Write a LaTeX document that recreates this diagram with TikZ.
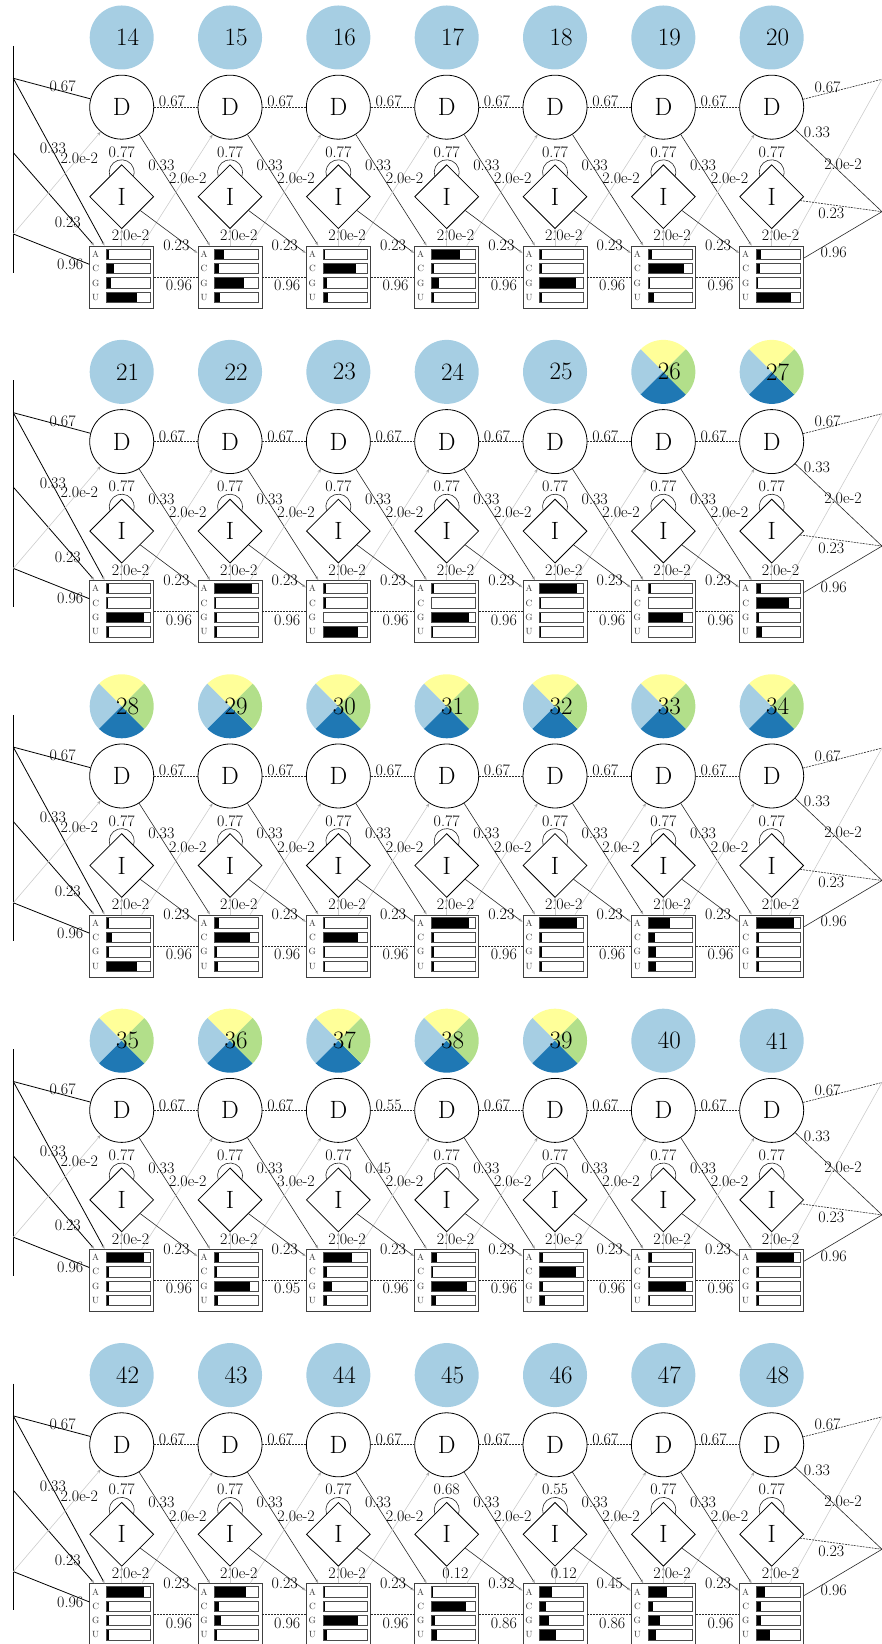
\documentclass[tikz,border=0pt]{standalone}
\usepackage{fontspec}
\usetikzlibrary{positioning,arrows.meta,shapes.geometric}
\definecolor{paleblue}{HTML}{A6CEE3}
\definecolor{deepblue}{HTML}{1F78B4}
\definecolor{palegreen}{HTML}{B2DF8A}
\definecolor{paleyellow}{HTML}{FFFF99}
\definecolor{edgegray}{gray}{0.8}

\tikzset{
  posball/.style={circle,minimum size=64pt,inner sep=0pt,font=\fontsize{25}{30}\selectfont},
  delnode/.style={circle,draw,line width=0.8pt,fill=white,minimum size=64pt,inner sep=0pt,
                  font=\fontsize{25}{30}\selectfont},
  insnode/.style={diamond,draw,line width=0.8pt,fill=white,minimum width=64pt,minimum height=64pt,
                  inner sep=0pt,font=\fontsize{25}{30}\selectfont},
  matnode/.style={rectangle,draw=black!75,line width=0.9pt,fill=white,minimum width=64pt,
                  minimum height=62pt,inner sep=0pt},
  barframe/.style={draw=black!70,line width=0.7pt},
  prob/.style={font=\fontsize{16}{19}\selectfont,inner sep=0pt,text=black},
  nuc/.style={font=\fontsize{9}{10}\selectfont,inner sep=0pt,text=black!80},
  trans/.style={line width=0.6pt,black!85},
  entry/.style={line width=0.8pt,black},
  faint/.style={line width=0.6pt,edgegray},
  flat/.style={dash pattern=on 2pt off 1pt},
  headed/.style={-{Stealth[length=4pt,width=3pt,color=black!35]}}
}

% column / pie / A C G U / loop / M->I / I->M / M->M / D->D / D->M / M->D
\newcommand\hmmdata{%
14/0/.07/.17/.10/.70/0.77/2.0e-2/0.23/0.96/0.67/0.33/2.0e-2,
15/0/.20/.10/.66/.11/0.77/2.0e-2/0.23/0.96/0.67/0.33/2.0e-2,
16/0/.05/.75/.08/.12/0.77/2.0e-2/0.23/0.96/0.67/0.33/2.0e-2,
17/0/.65/.05/.18/.05/0.77/2.0e-2/0.23/0.96/0.67/0.33/2.0e-2,
18/0/.05/.05/.82/.05/0.77/2.0e-2/0.23/0.96/0.67/0.33/2.0e-2,
19/0/.08/.82/.05/.13/0.77/2.0e-2/0.23/0.96/0.67/0.33/2.0e-2,
20/0/.10/.09/.04/.79/0.77/2.0e-2/0.23/0.96/0.67/0.33/2.0e-2,
21/0/.07/.03/.85/.05/0.77/2.0e-2/0.23/0.96/0.67/0.33/2.0e-2,
22/0/.85/.04/.06/.06/0.77/2.0e-2/0.23/0.96/0.67/0.33/2.0e-2,
23/0/.07/.07/.02/.80/0.77/2.0e-2/0.23/0.96/0.67/0.33/2.0e-2,
24/0/.07/.02/.85/.03/0.77/2.0e-2/0.23/0.96/0.67/0.33/2.0e-2,
25/0/.85/.04/.04/.04/0.77/2.0e-2/0.23/0.96/0.67/0.33/2.0e-2,
26/1/.07/.03/.80/.03/0.77/2.0e-2/0.23/0.96/0.67/0.33/2.0e-2,
27/1/.10/.75/.07/.12/0.77/2.0e-2/0.23/0.96/0.67/0.33/2.0e-2,
28/1/.05/.12/.05/.70/0.77/2.0e-2/0.23/0.96/0.67/0.33/2.0e-2,
29/1/.10/.80/.05/.08/0.77/2.0e-2/0.23/0.96/0.67/0.33/2.0e-2,
30/1/.05/.80/.05/.05/0.77/2.0e-2/0.23/0.96/0.67/0.33/2.0e-2,
31/1/.85/.05/.05/.05/0.77/2.0e-2/0.23/0.96/0.67/0.33/2.0e-2,
32/1/.85/.05/.05/.05/0.77/2.0e-2/0.23/0.96/0.67/0.33/2.0e-2,
33/1/.50/.15/.18/.18/0.77/2.0e-2/0.23/0.96/0.67/0.33/2.0e-2,
34/1/.85/.05/.05/.05/0.77/2.0e-2/0.23/0.96/0.67/0.33/2.0e-2,
35/1/.85/.05/.05/.05/0.77/2.0e-2/0.23/0.96/0.67/0.33/2.0e-2,
36/1/.10/.05/.80/.07/0.77/2.0e-2/0.23/0.95/0.67/0.33/3.0e-2,
37/1/.65/.10/.20/.10/0.77/2.0e-2/0.23/0.96/0.55/0.45/2.0e-2,
38/1/.12/.04/.82/.10/0.77/2.0e-2/0.23/0.96/0.67/0.33/2.0e-2,
39/1/.08/.83/.08/.13/0.77/2.0e-2/0.23/0.96/0.67/0.33/2.0e-2,
40/0/.10/.04/.87/.05/0.77/2.0e-2/0.23/0.96/0.67/0.33/2.0e-2,
41/0/.85/.05/.05/.05/0.77/2.0e-2/0.23/0.96/0.67/0.33/2.0e-2,
42/0/.85/.05/.05/.05/0.77/2.0e-2/0.23/0.96/0.67/0.33/2.0e-2,
43/0/.70/.10/.15/.05/0.77/2.0e-2/0.23/0.96/0.67/0.33/2.0e-2,
44/0/.05/.05/.80/.10/0.77/2.0e-2/0.23/0.96/0.67/0.33/2.0e-2,
45/0/.03/.78/.08/.12/0.68/0.12/0.32/0.86/0.67/0.33/2.0e-2,
46/0/.29/.15/.20/.38/0.55/0.12/0.45/0.86/0.67/0.33/2.0e-2,
47/0/.43/.12/.27/.18/0.77/2.0e-2/0.23/0.96/0.67/0.33/2.0e-2,
48/0/.20/.10/.10/.30/0.77/2.0e-2/0.23/0.96/0.67/0.33/2.0e-2}

\begin{document}
\begin{tikzpicture}[x=1pt,y=1pt]
\useasboundingbox (0,0) rectangle (882,1644);
% states of every column
\foreach \cnum/\pie/\fa/\fc/\fg/\fu/\ploop/\pmi/\pim/\pmm/\pdd/\pdm/\pmd in \hmmdata {
  \pgfmathtruncatemacro\idx{\cnum-14}
  \pgfmathtruncatemacro\hrow{floor(\idx/7)}
  \pgfmathtruncatemacro\hcol{mod(\idx,7)}
  \pgfmathsetmacro\cx{121.7+108.33*\hcol}
  \pgfmathsetmacro\ry{1606.5-334.4*\hrow}
  \ifnum\pie=1
    \foreach \wedge [count=\w from 0] in {paleyellow,paleblue,deepblue,palegreen}
      \fill[\wedge] (\cx,\ry) -- ++(45+90*\w:32) arc[start angle=45+90*\w,delta angle=90,radius=32] -- cycle;
    \def\ballfill{none}
  \else
    \def\ballfill{paleblue}
  \fi
  \node[posball,fill=\ballfill] (S\cnum) at (\cx,\ry) {\hspace*{12pt}\cnum};
  \node[delnode] (D\cnum) at (\cx,\ry-69.7) {D};
  \node[insnode] (I\cnum) at (\cx,\ry-159.2) {I};
  \node[matnode] (M\cnum) at (\cx,\ry-239.7) {};
  % emission bars
  \foreach \nt/\fr/\dy in {A/\fa/23,C/\fc/8.6,G/\fg/-5.8,U/\fu/-20.2}{
    \node[nuc] (M\cnum\nt) at ([xshift=-26pt,yshift=\dy pt]M\cnum.center) {\nt};
    \fill ([xshift=-15.3pt,yshift=\dy pt-5.15pt]M\cnum.center) rectangle ++(44*\fr,10.3);
    \draw[barframe] ([xshift=-15.3pt,yshift=\dy pt-5.15pt]M\cnum.center) rectangle ++(44,10.3);
  }
}
% transitions inside a row
\foreach \cnum/\pie/\fa/\fc/\fg/\fu/\ploop/\pmi/\pim/\pmm/\pdd/\pdm/\pmd in \hmmdata {
  \pgfmathtruncatemacro\idx{\cnum-14}
  \pgfmathtruncatemacro\hcol{mod(\idx,7)}
  \pgfmathtruncatemacro\nxt{\cnum+1}
  \draw[trans] (I\cnum.north) ++(0,-8) ++(198.7:12.5)
    arc[start angle=198.7,end angle=-18.7,radius=12.5] node[prob,midway,above=2pt] {\ploop};
  \draw[faint,headed] (M\cnum) -- (I\cnum) node[prob,pos=.5,xshift=8.8pt,yshift=1.6pt] {\pmi};
  \ifnum\hcol<6
    \draw[trans,flat] (D\cnum) -- (D\nxt) node[prob,pos=.41,yshift=5.5pt] {\pdd};
    \draw[trans,headed] (D\cnum) -- (M\nxt) node[prob,pos=.3,xshift=1pt,yshift=3pt] {\pdm};
    \draw[faint,headed] (M\cnum) -- (D\nxt) node[prob,pos=.65,yshift=-5pt] {\pmd};
    \draw[trans,headed] (I\cnum) -- (M\nxt) node[prob,pos=.63,yshift=-8.4pt] {\pim};
    \draw[trans,flat] (M\cnum) -- (M\nxt) node[prob,pos=.57,yshift=-8.3pt] {\pmm};
  \fi
}
% row breaks, left and right
\foreach \hrow in {0,...,4}{
  \pgfmathsetmacro\ry{1606.5-334.4*\hrow}
  \pgfmathtruncatemacro\first{14+7*\hrow}
  \pgfmathtruncatemacro\last{20+7*\hrow}
  \coordinate (LT\hrow) at (13.3,\ry-8.5);
  \coordinate (LB\hrow) at (13.3,\ry-235.2);
  \coordinate (DL\hrow) at (13.3,\ry-40.8);
  \coordinate (IL\hrow) at (13.3,\ry-115.2);
  \coordinate (ML\hrow) at (13.3,\ry-196.5);
  \coordinate (DR\hrow) at (882,\ry-41.8);
  \coordinate (MR\hrow) at (882,\ry-174.2);
  \draw[line width=0.9pt] (LT\hrow) -- (LB\hrow);
  \draw[entry] (DL\hrow) -- (D\first) node[prob,pos=.64,yshift=5pt] {0.67};
  \draw[entry,headed] (DL\hrow) -- (M\first) node[prob,pos=.42,xshift=1.2pt] {0.33};
  \draw[entry,headed] (IL\hrow) -- (M\first) node[prob,pos=.75,xshift=-6.3pt] {0.23};
  \draw[entry] (ML\hrow) -- (M\first) node[prob,pos=.75,yshift=-7.7pt] {0.96};
  \draw[faint,headed] (ML\hrow) -- (D\first) node[prob,pos=.755,yshift=-1.4pt] {2.0e-2};
  \draw[trans,flat] (D\last) -- (DR\hrow) node[prob,pos=.31,yshift=6pt] {0.67};
  \draw[trans] (D\last) -- (MR\hrow) node[prob,pos=0,xshift=21.8pt,yshift=-3.3pt] {0.33};
  \draw[faint] (M\last) -- (DR\hrow) node[prob,pos=.5,xshift=7.4pt,yshift=-1.5pt] {2.0e-2};
  \draw[trans,flat] (I\last) -- (MR\hrow) node[prob,pos=.38,yshift=-9pt] {0.23};
  \draw[trans] (M\last) -- (MR\hrow) node[prob,pos=.38,yshift=-12.4pt] {0.96};
}
\end{tikzpicture}
\end{document}
